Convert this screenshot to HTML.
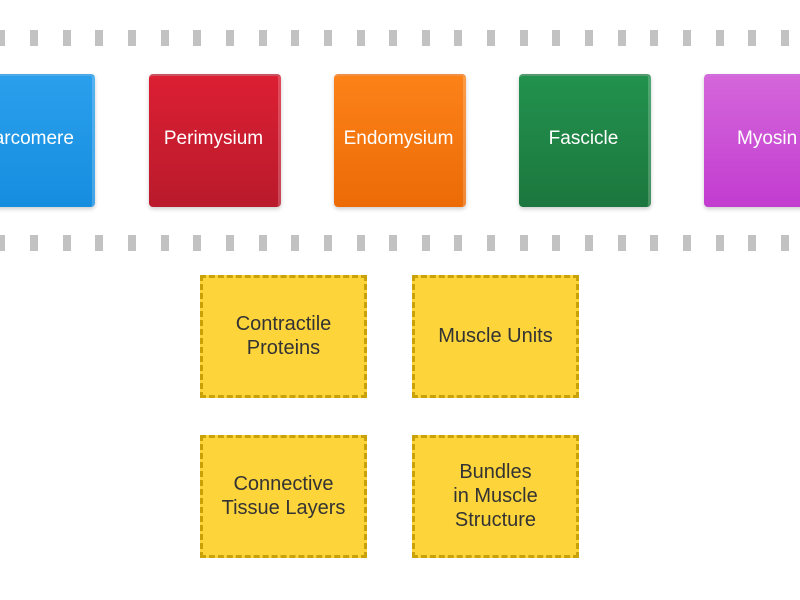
<!DOCTYPE html>
<html><head><style>
body{margin:0;width:800px;height:600px;background:#fff;position:relative;overflow:hidden;font-family:"Liberation Sans",sans-serif}
.d{position:absolute;width:8px;height:16px;background:#c2c2c2}
.t{position:absolute;top:74px;width:132px;height:133px;border-radius:4px;color:#fff;font-size:19px;display:flex;align-items:center;justify-content:center;box-shadow:0 2px 4px rgba(0,0,0,.2);white-space:nowrap;box-sizing:border-box;border-top:2px solid rgba(255,255,255,.25);border-right:3px solid rgba(255,255,255,.2);padding-bottom:5px}
.y{position:absolute;width:167px;height:123px;box-sizing:border-box;background:#fdd43a;border:3px dashed #c9a20a;color:#333;font-size:20px;display:flex;align-items:center;justify-content:center;text-align:center;line-height:24px;padding-bottom:2px}
</style></head><body>
<div id="dashes"></div>
<div class="t" style="left:-37px;background:linear-gradient(#2aa0ec,#168ddf)">Sarcomere</div>
<div class="t" style="left:149px;background:linear-gradient(#dc1f33,#b91a2c)">Perimysium</div>
<div class="t" style="left:334px;background:linear-gradient(#fc8218,#ec6b06)">Endomysium</div>
<div class="t" style="left:519px;background:linear-gradient(#22924e,#1c773e)">Fascicle</div>
<div class="t" style="left:704px;width:140px;justify-content:flex-start;padding-left:33px;background:linear-gradient(#d466da,#c23cd0)">Myosin</div>
<div class="y" style="left:200px;top:275px">Contractile<br>Proteins</div>
<div class="y" style="left:412px;top:275px">Muscle Units</div>
<div class="y" style="left:200px;top:435px">Connective<br>Tissue Layers</div>
<div class="y" style="left:412px;top:435px">Bundles<br>in Muscle<br>Structure</div>
<script>
var h='';for(var i=-1;i<26;i++){var x=30+i*32.65;h+='<div class="d" style="left:'+x+'px;top:30px"></div><div class="d" style="left:'+x+'px;top:235px"></div>';}
document.getElementById('dashes').innerHTML=h;
</script>
</body></html>
